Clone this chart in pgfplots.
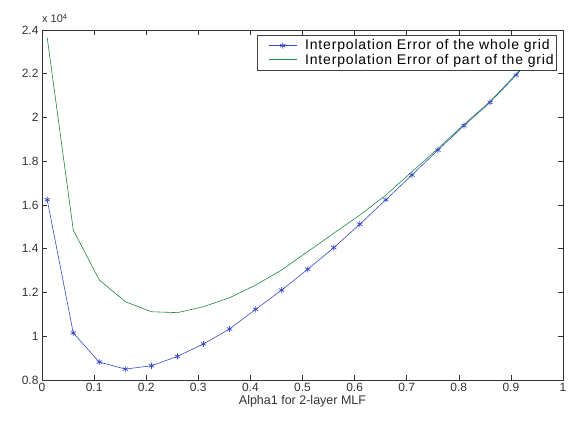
\documentclass[border=0pt]{standalone}
\usepackage{fontspec}
\setmainfont{Liberation Sans}
\newfontfamily\legfont[LetterSpace=6]{Liberation Sans}
\usepackage{pgfplots}
\pgfplotsset{compat=1.18}

\definecolor{mblue}{RGB}{55,75,200}
\definecolor{mgreen}{RGB}{30,135,65}

\begin{document}
\begin{tikzpicture}
  \useasboundingbox (-42pt,-43pt) rectangle (533pt,380pt);
  \begin{axis}[
    scale only axis,
    width=521pt, height=350pt,
    xmin=0, xmax=1,
    ymin=0.8, ymax=2.4,
    xtick={0,0.1,...,1},
    ytick={0.8,1,1.2,1.4,1.6,1.8,2,2.2,2.4},
    tick align=inside,
    major tick length=5pt,
    axis line style={black!80, line width=0.9pt},
    tick style={black!80, line width=0.6pt},
    every tick label/.append style={font=\fontsize{12}{14}\selectfont, text=black!80},
    /pgf/number format/assume math mode=true,
    xlabel={Alpha1 for 2-layer MLF},
    xlabel style={font=\fontsize{12.5}{14}\selectfont, text=black!80, yshift=3pt},
    legend cell align=left,
    legend style={
      at={(0.9885,0.9857)}, anchor=north east,
      font=\legfont\fontsize{14}{15}\selectfont,
      draw=black!75, line width=0.6pt,
      inner xsep=1pt, inner ysep=2.5pt, row sep=-1.5pt,
    },
    legend image code/.code={
      \path (-8pt,0pt) (36pt,0pt);
      \draw[mark repeat=2, mark phase=2, #1]
        plot coordinates {(2pt,0pt) (16pt,0pt) (30pt,0pt)};
    },
    clip=false,
  ]
    \addplot[color=mblue, line width=0.6pt, mark=asterisk, mark size=3pt,
             mark options={line width=0.7pt}] coordinates {
      (0.01,1.624) (0.06,1.015) (0.11,0.882) (0.16,0.850) (0.21,0.865)
      (0.26,0.908) (0.31,0.965) (0.36,1.033) (0.41,1.123) (0.46,1.211)
      (0.51,1.306) (0.56,1.405) (0.61,1.512) (0.66,1.624) (0.71,1.737)
      (0.76,1.851) (0.81,1.963) (0.86,2.069) (0.91,2.194) (0.96,2.320)
    };
    \addlegendentry{Interpolation Error of the whole grid}
    \addplot[color=mgreen, line width=0.6pt] coordinates {
      (0.01,2.365) (0.06,1.486) (0.11,1.257) (0.16,1.158) (0.21,1.112)
      (0.26,1.108) (0.31,1.135) (0.36,1.176) (0.41,1.234) (0.46,1.303)
      (0.51,1.387) (0.56,1.471) (0.61,1.554) (0.66,1.645) (0.71,1.752)
      (0.76,1.858) (0.81,1.968) (0.86,2.073) (0.91,2.198) (0.96,2.325)
    };
    \addlegendentry{Interpolation Error of part of the grid}
    \node[anchor=base west, inner sep=0pt, font=\fontsize{11}{13}\selectfont, text=black!80]
      at (rel axis cs:0,1) [yshift=7pt] {x 10\textsuperscript{4}};
  \end{axis}
\end{tikzpicture}
\end{document}
